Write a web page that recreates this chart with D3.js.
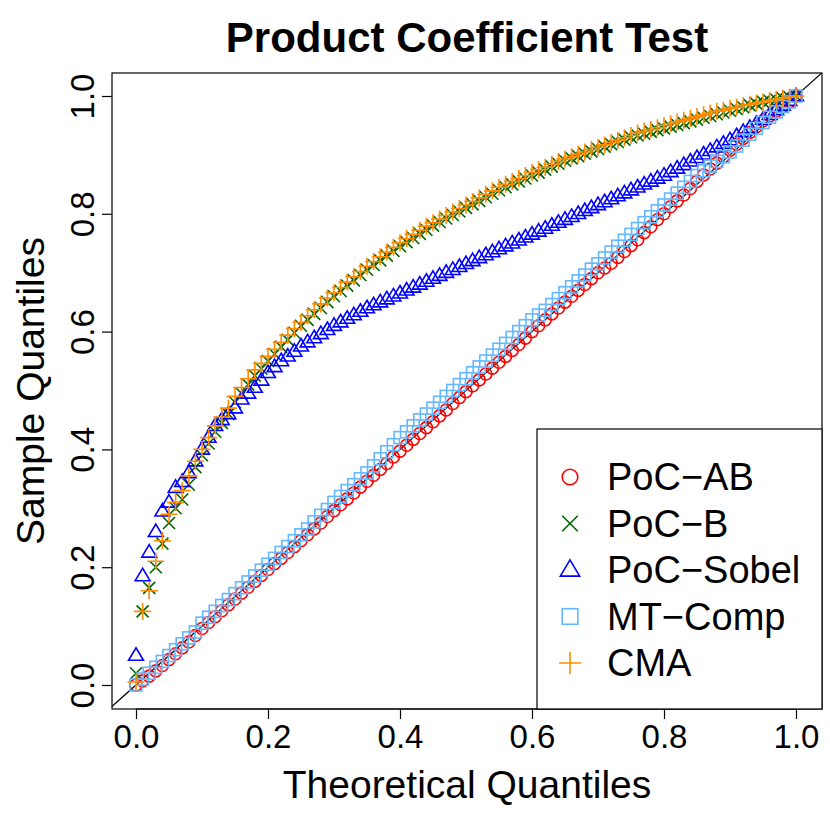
<!DOCTYPE html>
<html>
<head>
<meta charset="utf-8">
<script src="https://cdn.jsdelivr.net/npm/d3@7"></script>
<style>
  body { margin: 0; background: #fff; }
  text { font-family: "Liberation Sans", Arial, sans-serif; }
</style>
</head>
<body>
<div id="chart"></div>
<script>
// theoretical quantiles 0, 0.01, ..., 1
const theoretical = d3.range(101).map(i => i / 100);

const pocAB = [0.0,0.007,0.015,0.024,0.033,0.043,0.053,0.063,0.073,0.084,0.096,
  0.106,0.116,0.126,0.136,0.146,0.156,0.166,0.176,0.186,0.196,
  0.206,0.215,0.225,0.235,0.245,0.255,0.265,0.275,0.286,0.296,
  0.306,0.316,0.326,0.336,0.346,0.356,0.366,0.376,0.387,0.397,
  0.407,0.417,0.427,0.437,0.447,0.457,0.467,0.478,0.488,0.498,
  0.508,0.518,0.528,0.538,0.548,0.558,0.568,0.578,0.589,0.6,
  0.61,0.62,0.63,0.64,0.65,0.66,0.67,0.68,0.69,0.7,
  0.708,0.716,0.726,0.736,0.746,0.756,0.768,0.778,0.79,0.8,
  0.812,0.822,0.832,0.843,0.855,0.866,0.876,0.886,0.897,0.908,
  0.918,0.928,0.938,0.948,0.958,0.966,0.974,0.982,0.99,1.0];
const pocB = [0.02,0.125,0.165,0.2,0.24,0.275,0.3,0.315,0.34,0.37,0.39,
  0.41,0.43,0.445,0.46,0.48,0.495,0.51,0.525,0.537,0.55,
  0.562,0.574,0.586,0.598,0.61,0.62,0.63,0.64,0.65,0.66,
  0.669,0.678,0.687,0.696,0.705,0.713,0.721,0.729,0.737,0.745,
  0.752,0.759,0.766,0.773,0.78,0.786,0.792,0.798,0.804,0.81,
  0.816,0.822,0.828,0.834,0.84,0.845,0.85,0.855,0.86,0.865,
  0.87,0.875,0.88,0.885,0.89,0.894,0.898,0.902,0.906,0.91,
  0.914,0.918,0.922,0.926,0.93,0.933,0.936,0.939,0.942,0.945,
  0.948,0.951,0.954,0.957,0.96,0.963,0.966,0.969,0.972,0.975,
  0.978,0.981,0.984,0.987,0.99,0.992,0.994,0.996,0.998,1.0];
const pocSobel = [0.05,0.185,0.225,0.26,0.295,0.31,0.335,0.345,0.36,0.38,0.4,
  0.42,0.44,0.45,0.46,0.47,0.485,0.495,0.505,0.517,0.53,
  0.54,0.55,0.558,0.566,0.575,0.582,0.589,0.596,0.603,0.61,
  0.616,0.622,0.628,0.634,0.64,0.645,0.65,0.655,0.66,0.665,
  0.67,0.675,0.68,0.685,0.69,0.695,0.7,0.705,0.71,0.715,
  0.72,0.725,0.73,0.735,0.74,0.745,0.75,0.755,0.76,0.765,
  0.77,0.775,0.78,0.785,0.79,0.795,0.8,0.805,0.81,0.815,
  0.82,0.825,0.83,0.835,0.84,0.845,0.85,0.855,0.86,0.865,
  0.871,0.877,0.883,0.889,0.895,0.901,0.907,0.913,0.919,0.925,
  0.932,0.939,0.946,0.953,0.96,0.968,0.976,0.984,0.992,1.0];
const mtComp = [0.0,0.01,0.02,0.03,0.04,0.05,0.06,0.07,0.08,0.09,0.105,
  0.115,0.125,0.135,0.145,0.155,0.165,0.175,0.185,0.195,0.205,
  0.215,0.225,0.235,0.245,0.255,0.265,0.277,0.288,0.298,0.31,
  0.32,0.33,0.34,0.35,0.36,0.372,0.384,0.396,0.408,0.42,
  0.43,0.44,0.45,0.46,0.47,0.48,0.49,0.5,0.51,0.52,
  0.53,0.54,0.55,0.56,0.57,0.58,0.59,0.6,0.61,0.62,
  0.628,0.636,0.646,0.656,0.666,0.676,0.686,0.696,0.706,0.715,
  0.725,0.735,0.745,0.755,0.765,0.775,0.785,0.795,0.805,0.815,
  0.825,0.835,0.845,0.855,0.865,0.873,0.881,0.889,0.897,0.905,
  0.915,0.925,0.935,0.945,0.955,0.964,0.973,0.982,0.99,1.0];
const cma = [0.005,0.125,0.16,0.21,0.245,0.29,0.31,0.33,0.355,0.38,0.4,
  0.42,0.44,0.455,0.47,0.49,0.505,0.52,0.535,0.546,0.558,
  0.57,0.582,0.594,0.605,0.616,0.627,0.637,0.647,0.657,0.666,
  0.675,0.684,0.693,0.702,0.711,0.719,0.727,0.735,0.743,0.751,
  0.758,0.765,0.772,0.779,0.785,0.791,0.797,0.803,0.809,0.815,
  0.821,0.827,0.833,0.839,0.845,0.85,0.855,0.86,0.865,0.87,
  0.875,0.879,0.884,0.889,0.893,0.897,0.901,0.905,0.909,0.913,
  0.917,0.921,0.925,0.929,0.933,0.937,0.94,0.943,0.946,0.95,
  0.953,0.956,0.959,0.962,0.965,0.968,0.971,0.974,0.976,0.979,
  0.981,0.984,0.986,0.988,0.99,0.992,0.994,0.996,0.998,1.0];
const ticks = [0, 0.2, 0.4, 0.6, 0.8, 1.0];

const series = [
  { name: "PoC\u2212AB", values: pocAB, color: "#ff0000", shape: "circle" },
  { name: "PoC\u2212B", values: pocB, color: "#006400", shape: "x" },
  { name: "PoC\u2212Sobel", values: pocSobel, color: "#0000ff", shape: "triangle" },
  { name: "MT\u2212Comp", values: mtComp, color: "#63b8ff", shape: "square" },
  { name: "CMA", values: cma, color: "#ff8c00", shape: "plus" }
];

const W = 830, H = 830;
const box = { left: 112, right: 822, top: 73, bottom: 709 };

const x = d3.scaleLinear().domain([0, 1]).range([136, 796]);
const y = d3.scaleLinear().domain([0, 1]).range([685, 96]);

const svg = d3.select("#chart").append("svg")
  .attr("width", W).attr("height", H);

// reference diagonal, clipped to the box
svg.append("clipPath").attr("id", "clip").append("rect")
  .attr("x", box.left).attr("y", box.top)
  .attr("width", box.right - box.left).attr("height", box.bottom - box.top);
svg.append("line")
  .attr("clip-path", "url(#clip)")
  .attr("x1", x(-0.1)).attr("y1", y(-0.1))
  .attr("x2", x(1.1)).attr("y2", y(1.1))
  .attr("stroke", "#000").attr("stroke-width", 1.2);

function drawSymbol(g, shape, color, cx, cy, k = 1) {
  const s = 6 * k;
  if (shape === "circle") {
    g.append("circle").attr("cx", cx).attr("cy", cy).attr("r", s)
      .attr("fill", "none").attr("stroke", color).attr("stroke-width", 1.6);
  } else if (shape === "square") {
    g.append("rect").attr("x", cx - s).attr("y", cy - s).attr("width", 2 * s).attr("height", 2 * s)
      .attr("fill", "none").attr("stroke", color).attr("stroke-width", 1.6);
  } else if (shape === "triangle") {
    const r = 7.8 * k;
    g.append("path")
      .attr("d", `M${cx},${cy - r} L${cx + r * 0.95},${cy + r * 0.6} L${cx - r * 0.95},${cy + r * 0.6} Z`)
      .attr("fill", "none").attr("stroke", color).attr("stroke-width", 1.6);
  } else if (shape === "x") {
    g.append("path")
      .attr("d", `M${cx - s},${cy - s} L${cx + s},${cy + s} M${cx - s},${cy + s} L${cx + s},${cy - s}`)
      .attr("stroke", color).attr("stroke-width", 1.6);
  } else if (shape === "plus") {
    const r = 8.5 * k;
    g.append("path")
      .attr("d", `M${cx - r},${cy} L${cx + r},${cy} M${cx},${cy - r} L${cx},${cy + r}`)
      .attr("stroke", color).attr("stroke-width", 1.6);
  }
}

series.forEach(sr => {
  const g = svg.append("g");
  sr.values.forEach((v, i) => drawSymbol(g, sr.shape, sr.color, x(theoretical[i]), y(v)));
});

// frame
svg.append("rect")
  .attr("x", box.left).attr("y", box.top)
  .attr("width", box.right - box.left).attr("height", box.bottom - box.top)
  .attr("fill", "none").attr("stroke", "#000").attr("stroke-width", 1.2);

// axes
const fmt = d3.format(".1f");
const xAxis = svg.append("g").attr("transform", `translate(0,${box.bottom})`)
  .call(d3.axisBottom(x).tickValues(ticks).tickFormat(fmt).tickSize(10).tickPadding(6));
const yAxis = svg.append("g").attr("transform", `translate(${box.left},0)`)
  .call(d3.axisLeft(y).tickValues(ticks).tickFormat(fmt).tickSize(10));
[xAxis, yAxis].forEach(a => {
  a.select(".domain").remove();
  a.selectAll("line").attr("stroke-width", 1.2);
  a.selectAll("text").attr("font-size", 33).attr("fill", "#000")
    .style("font-family", "Liberation Sans, Arial, sans-serif");
});
svg.append("line").attr("x1", x(0)).attr("x2", x(1))
  .attr("y1", box.bottom).attr("y2", box.bottom).attr("stroke", "#000");
yAxis.selectAll(".tick text")
  .attr("text-anchor", "middle")
  .attr("x", 0).attr("y", 0).attr("dy", "0.35em")
  .attr("transform", "translate(-30,0) rotate(-90)");

// titles
svg.append("text").attr("x", 467).attr("y", 52).attr("text-anchor", "middle")
  .attr("font-size", 42).attr("font-weight", "bold").text("Product Coefficient Test");
svg.append("text").attr("x", 467).attr("y", 798).attr("text-anchor", "middle")
  .attr("font-size", 39).text("Theoretical Quantiles");
svg.append("text").attr("transform", "translate(44,391) rotate(-90)").attr("text-anchor", "middle")
  .attr("font-size", 39).text("Sample Quantiles");

// legend
const leg = svg.append("g");
leg.append("rect").attr("x", 537).attr("y", 429).attr("width", 285).attr("height", 280)
  .attr("fill", "#fff").attr("stroke", "#000").attr("stroke-width", 1.2);
series.forEach((sr, i) => {
  const cy = 477 + i * 46.5;
  drawSymbol(leg, sr.shape, sr.color, 570, cy, 1.3);
  leg.append("text").attr("x", 607).attr("y", cy).attr("dy", "0.35em")
    .attr("font-size", 38).text(sr.name);
});
</script>
</body>
</html>
